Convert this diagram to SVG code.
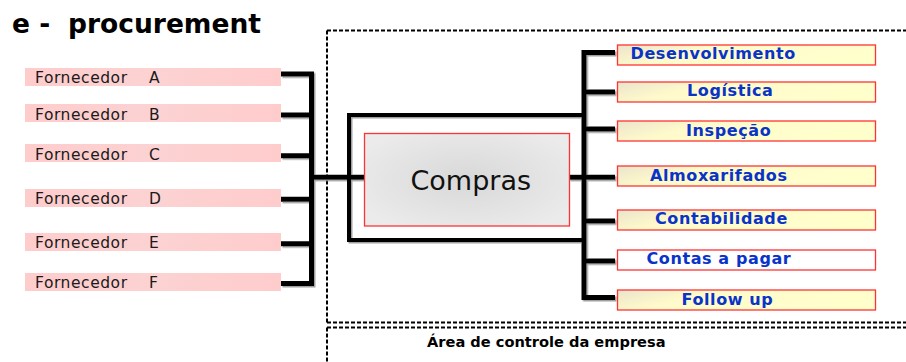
<svg xmlns="http://www.w3.org/2000/svg" width="906" height="362" viewBox="0 0 906 362">
  <style>
    .title { font-family: "DejaVu Sans", Verdana, sans-serif; font-weight: bold; font-size: 26.5px; fill: #000; }
    .sup-box { fill: url(#supFill); }
    .sup-text { font-family: "DejaVu Sans", Verdana, sans-serif; font-size: 15.5px; letter-spacing: 0.55px; fill: #1a1a1a; }
    .dept-box { fill: url(#deptFill); stroke: #ff3333; stroke-width: 1.3; }
    .dept-box.plain { fill: #ffffff; }
    .dept-text { font-family: "DejaVu Sans", Verdana, sans-serif; font-weight: bold; font-size: 16px; letter-spacing: 0.6px; fill: #0a33c8; }
    .core-box { fill: url(#coreFill); stroke: #ff3333; stroke-width: 1.3; }
    .core-text { font-family: "DejaVu Sans", Verdana, sans-serif; font-size: 27px; fill: #111; }
    .wire { fill: none; stroke: #000; stroke-width: 5; stroke-linejoin: miter; }
    .frame { fill: none; stroke: #000; stroke-width: 4; }
    .dash { fill: none; stroke: #000; stroke-width: 2; stroke-dasharray: 4 2; }
    .area-text { font-family: "DejaVu Sans", Verdana, sans-serif; font-weight: bold; font-size: 14.6px; fill: #000; }
  </style>
  <defs>
    <linearGradient id="supFill" x1="0" y1="0" x2="1" y2="0">
      <stop offset="0" stop-color="#ffcccc"/>
      <stop offset="0.5" stop-color="#fcd2d2"/>
      <stop offset="1" stop-color="#ffcccc"/>
    </linearGradient>
    <linearGradient id="deptFill" x1="0" y1="0" x2="1" y2="0.3">
      <stop offset="0" stop-color="#ebe4cc"/>
      <stop offset="0.35" stop-color="#fffacb"/>
      <stop offset="1" stop-color="#ffffcc"/>
    </linearGradient>
    <radialGradient id="coreFill" cx="0.5" cy="0.5" r="0.6">
      <stop offset="0" stop-color="#d8d8d8"/>
      <stop offset="1" stop-color="#ebebeb"/>
    </radialGradient>
    <filter id="shade" x="-5%" y="-5%" width="110%" height="110%">
      <feDropShadow dx="1.5" dy="1.5" stdDeviation="0.3" flood-color="#888" flood-opacity="0.8"/>
    </filter>
  </defs>

  <rect width="906" height="362" fill="#fff"/>

  <!-- heading -->
  <text class="title" x="12" y="33">e -</text>
  <text class="title" x="68" y="33">procurement</text>

  <!-- boundary of the company control area -->
  <g id="control-area">
    <path class="dash" d="M327,30.5 H906 M327,30.5 V322.5 M327,322.5 H906 M327,327.5 H906 M327,327.5 V362"/>
    <text class="area-text" x="427" y="347">Área de controle da empresa</text>
  </g>

  <!-- connectors -->
  <g id="connectors" filter="url(#shade)">
    <!-- supplier bus -->
    <path class="wire" d="M281,74 H311.5 V283.5 H281"/>
    <path class="wire" d="M281,115 H311.5 M281,155.7 H311.5 M281,199.3 H311.5 M281,243.7 H311.5"/>
    <path class="wire" d="M311.5,177.3 H365"/>
    <!-- frame around Compras -->
    <path class="frame" d="M584,115 H349 V240 H584"/>
    <path class="wire" d="M569,177.3 H584"/>
    <!-- department bus -->
    <path class="wire" d="M615,52.5 H584 V297.5 H615"/>
    <path class="wire" d="M584,92 H615 M584,129 H615 M584,177.3 H615 M584,221 H615 M584,261 H615"/>
  </g>

  <!-- suppliers -->
  <g id="fornecedor-a"><rect class="sup-box" x="25" y="68" width="256" height="18"/><text class="sup-text" x="35" y="82.7">Fornecedor</text><text class="sup-text" x="149" y="82.7">A</text></g>
  <g id="fornecedor-b"><rect class="sup-box" x="25" y="104" width="256" height="18"/><text class="sup-text" x="35" y="119.5">Fornecedor</text><text class="sup-text" x="149" y="119.5">B</text></g>
  <g id="fornecedor-c"><rect class="sup-box" x="25" y="144" width="256" height="18"/><text class="sup-text" x="35" y="160">Fornecedor</text><text class="sup-text" x="149" y="160">C</text></g>
  <g id="fornecedor-d"><rect class="sup-box" x="25" y="189" width="256" height="18"/><text class="sup-text" x="35" y="204">Fornecedor</text><text class="sup-text" x="149" y="204">D</text></g>
  <g id="fornecedor-e"><rect class="sup-box" x="25" y="233" width="256" height="18"/><text class="sup-text" x="35" y="248.3">Fornecedor</text><text class="sup-text" x="149" y="248.3">E</text></g>
  <g id="fornecedor-f"><rect class="sup-box" x="25" y="273" width="256" height="18"/><text class="sup-text" x="35" y="287.7">Fornecedor</text><text class="sup-text" x="149" y="287.7">F</text></g>

  <!-- purchasing -->
  <g id="compras">
    <rect class="core-box" x="364.5" y="133.5" width="205" height="92.5"/>
    <text class="core-text" x="410.5" y="190">Compras</text>
  </g>

  <!-- internal departments -->
  <g id="desenvolvimento"><rect class="dept-box" x="617.5" y="45" width="258" height="20"/><text class="dept-text" x="630.5" y="58.5">Desenvolvimento</text></g>
  <g id="logistica"><rect class="dept-box" x="617.5" y="82" width="258" height="20"/><text class="dept-text" x="687" y="95.7">Logística</text></g>
  <g id="inspecao"><rect class="dept-box" x="617.5" y="121" width="258" height="20"/><text class="dept-text" x="686" y="136">Inspeção</text></g>
  <g id="almoxarifados"><rect class="dept-box" x="617.5" y="166" width="258" height="20"/><text class="dept-text" x="650" y="181">Almoxarifados</text></g>
  <g id="contabilidade"><rect class="dept-box" x="617.5" y="210" width="258" height="20"/><text class="dept-text" x="655" y="224">Contabilidade</text></g>
  <g id="contas-a-pagar"><rect class="dept-box plain" x="617.5" y="250" width="258" height="20"/><text class="dept-text" x="646.5" y="264.3">Contas a pagar</text></g>
  <g id="follow-up"><rect class="dept-box" x="617.5" y="290" width="258" height="20"/><text class="dept-text" x="681.5" y="305">Follow up</text></g>
</svg>
